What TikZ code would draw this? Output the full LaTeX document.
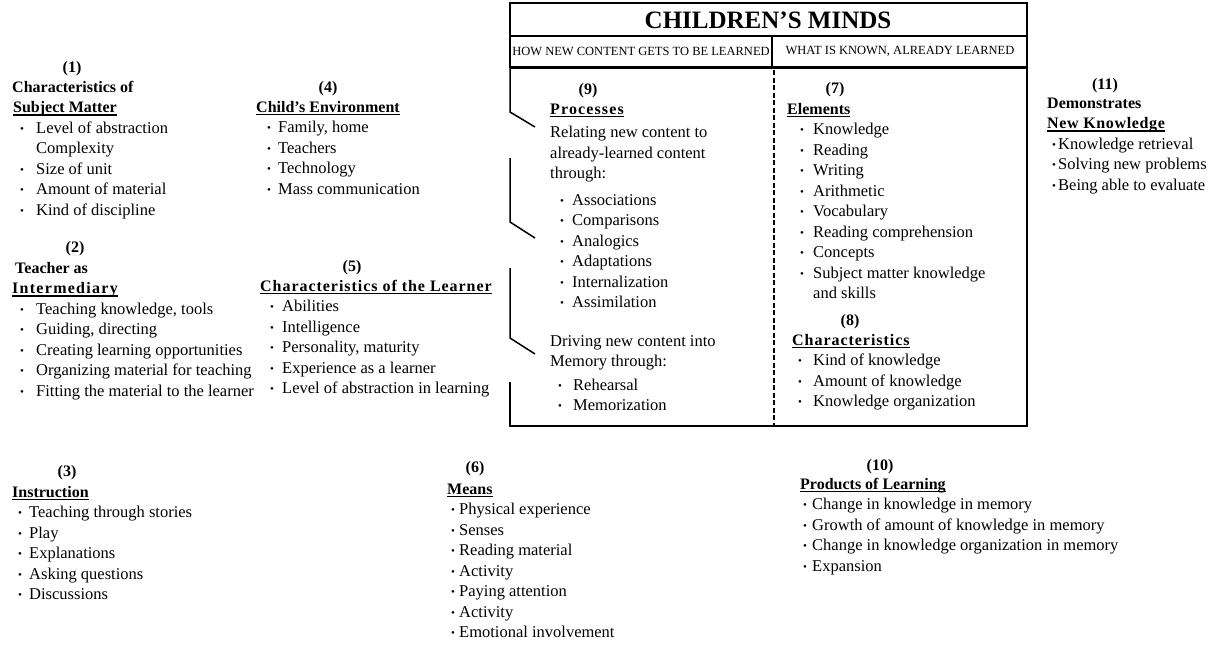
\documentclass[tikz,border=0pt]{standalone}
\usepackage{fontspec}
\setmainfont{Liberation Serif}
\newcommand\ulx[1]{\setbox0\hbox{#1}\rlap{\rule[-3pt]{\wd0}{1.2pt}}\box0}
\newcommand\bul{\makebox[0pt][l]{\raisebox{0.8pt}{\fontsize{11}{11}\selectfont\textbullet}}}
\newcommand\hd[1]{\multicolumn{2}{@{}l@{}}{#1}}
\newcommand\hb[1]{{\fontsize{16}{20.5}\selectfont\bfseries #1}}
\newcommand\spaced[2]{{\addfontfeatures{LetterSpace=#1}#2}}
\newcommand\blist[3]{\begin{tabular}[t]{@{\hspace{#1pt}}l@{\hspace{#2pt}}l@{}}#3\end{tabular}}
\tikzset{
  blk/.style={anchor=base west, inner sep=0pt, font=\fontsize{16.5}{20.5}\selectfont},
  num/.style={anchor=base, inner sep=0pt, font=\fontsize{16}{20.5}\selectfont\bfseries},
  frame/.style={line width=1.5pt, line join=miter},
  divider/.style={line width=1.8pt, dash pattern=on 5pt off 2.5pt}
}
\begin{document}
\begin{tikzpicture}[x=1pt,y=-1pt]
\useasboundingbox (0,0) rectangle (1215,646);
% ---------- header box ----------
\draw[line width=1.6pt] (510,3) rectangle (1027,67);
\draw[line width=1.2pt] (510,36) -- (1027,36);
\draw[line width=1.2pt] (772,36) -- (772,67);
\draw[line width=3pt] (510,67) -- (1027,67);
\node[inner sep=0pt, font=\fontsize{25}{25}\selectfont\bfseries] (title) at (768,20) {CHILDREN’S MINDS};
\node[inner sep=0pt, font=\fontsize{12.5}{12.5}\selectfont] (sub1) at (641,51) {HOW NEW CONTENT GETS TO BE LEARNED};
\node[inner sep=0pt, font=\fontsize{12.5}{12.5}\selectfont] (sub2) at (900,51) {WHAT IS KNOWN, ALREADY LEARNED};
% ---------- main box ----------
\draw[frame] (510,67) -- (510,112) -- (535,127);
\draw[frame] (510,158) -- (510,222) -- (535,238);
\draw[frame] (510,268) -- (510,338) -- (535,354);
\draw[frame] (510,382) -- (510,426) -- (1027,426) -- (1027,67);
\draw[divider] (774,70) -- (774,426);
% ---------- (1) ----------
\node[num] (n1) at (72,72) {(1)};
\node[blk] (b1) at (12,92) {\blist{8}{16}{%
\hd{\hb{Characteristics of}}\\
\hd{\hspace{1pt}\hb{\ulx{Subject Matter}}}\\
\bul & Level of abstraction\\
 & Complexity\\
\bul & Size of unit\\
\bul & Amount of material\\
\bul & Kind of discipline}};
% ---------- (2) ----------
\node[num] (n2) at (75,252) {(2)};
\node[blk] (b2) at (12,273) {\blist{8}{16}{%
\hd{\hspace{3pt}\hb{Teacher as}}\\
\hd{\hb{\ulx{\spaced{8}{Intermediary}}}}\\
\bul & Teaching knowledge, tools\\
\bul & Guiding, directing\\
\bul & Creating learning opportunities\\
\bul & Organizing material for teaching\\
\bul & Fitting the material to the learner}};
% ---------- (3) ----------
\node[num] (n3) at (67,476) {(3)};
\node[blk] (b3) at (12,497) {\blist{6}{11}{%
\hd{\hb{\ulx{Instruction}}}\\
\bul & Teaching through stories\\
\bul & Play\\
\bul & Explanations\\
\bul & Asking questions\\
\bul & Discussions}};
% ---------- (4) ----------
\node[num] (n4) at (328,92) {(4)};
\node[blk] (b4) at (256,112) {\blist{11}{11}{%
\hd{\hb{\ulx{Child’s Environment}}}\\
\bul & Family, home\\
\bul & Teachers\\
\bul & Technology\\
\bul & Mass communication}};
% ---------- (5) ----------
\node[num] (n5) at (352,271) {(5)};
\node[blk] (b5) at (260,291) {\blist{10}{12}{%
\hd{\hb{\ulx{\spaced{6}{Characteristics of the Learner}}}}\\
\bul & Abilities\\
\bul & Intelligence\\
\bul & Personality, maturity\\
\bul & Experience as a learner\\
\bul & Level of abstraction in learning}};
% ---------- (6) ----------
\node[num] (n6) at (475,472) {(6)};
\node[blk] (b6) at (447,494) {\blist{4}{8}{%
\hd{\hb{\ulx{Means}}}\\
\bul & Physical experience\\
\bul & Senses\\
\bul & Reading material\\
\bul & Activity\\
\bul & Paying attention\\
\bul & Activity\\
\bul & Emotional involvement}};
% ---------- (7) ----------
\node[num] (n7) at (835,93) {(7)};
\node[blk] (b7) at (787,114) {\blist{13}{13}{%
\hd{\hb{\ulx{Elements}}}\\
\bul & Knowledge\\
\bul & Reading\\
\bul & Writing\\
\bul & Arithmetic\\
\bul & Vocabulary\\
\bul & Reading comprehension\\
\bul & Concepts\\
\bul & Subject matter knowledge\\
 & and skills}};
% ---------- (8) ----------
\node[num] (n8) at (850,325) {(8)};
\node[blk] (b8) at (792,345) {\blist{6}{15}{%
\hd{\hb{\ulx{\spaced{6}{Characteristics}}}}\\
\bul & Kind of knowledge\\
\bul & Amount of knowledge\\
\bul & Knowledge organization}};
% ---------- (9) ----------
\node[num] (n9) at (588,94) {(9)};
\node[blk] (b9) at (550,114) {\blist{10}{12}{%
\hd{\hb{\ulx{\spaced{7}{Processes}}}}\\[3pt]
\hd{Relating new content to}\\
\hd{already-learned content}\\
\hd{through:}\\[6pt]
\bul & Associations\\
\bul & Comparisons\\
\bul & Analogics\\
\bul & Adaptations\\
\bul & Internalization\\
\bul & Assimilation}};
\node[blk] (b9b) at (550,346) {\blist{8}{15}{%
\hd{Driving new content into}\\
\hd{Memory through:}\\[3pt]
\bul & Rehearsal\\
\bul & Memorization}};
% ---------- (10) ----------
\node[num] (n10) at (880,470) {(10)};
\node[blk] (b10) at (800,489) {\blist{3}{9}{%
\hd{\hb{\ulx{Products of Learning}}}\\
\bul & Change in knowledge in memory\\
\bul & Growth of amount of knowledge in memory\\
\bul & Change in knowledge organization in memory\\
\bul & Expansion}};
% ---------- (11) ----------
\node[num] (n11) at (1105,89) {(11)};
\node[blk] (b11) at (1047,108) {\blist{5}{6}{%
\hd{\hb{Demonstrates}}\\
\hd{\hb{\ulx{\spaced{4}{New Knowledge}}}}\\
\bul & Knowledge retrieval\\
\bul & Solving new problems\\
\bul & Being able to evaluate}};
\end{tikzpicture}
\end{document}
